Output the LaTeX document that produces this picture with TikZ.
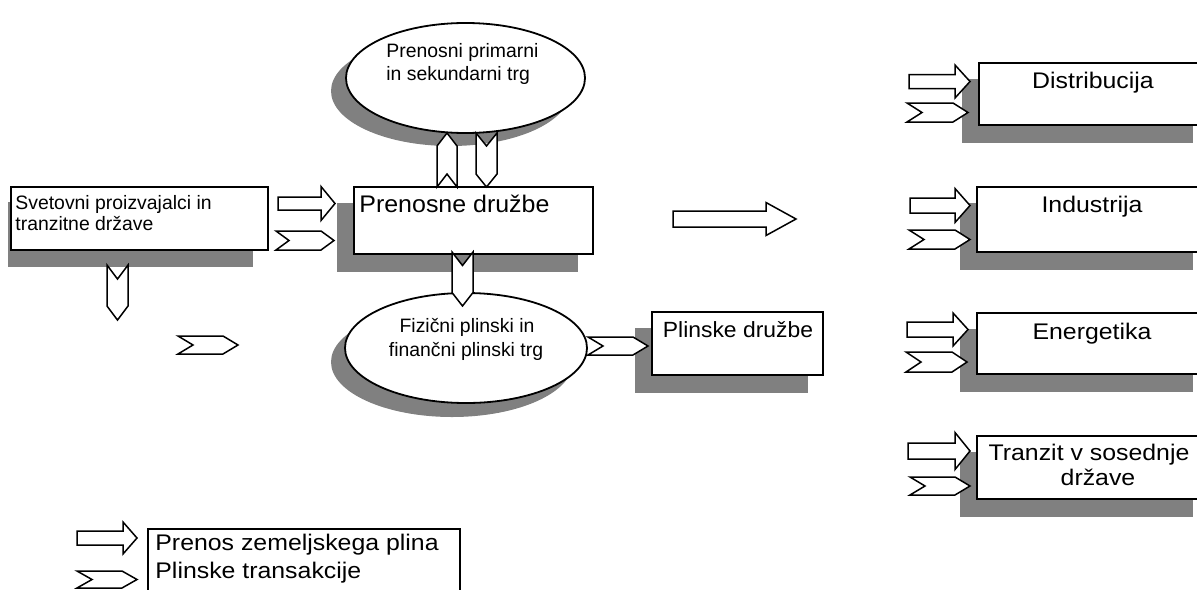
\documentclass[tikz,border=0pt]{standalone}
\usepackage{fontspec}
\setmainfont{Liberation Sans}
\newfontfamily\wideA[FakeStretch=1.1]{Liberation Sans}
\newfontfamily\wideB[FakeStretch=1.04]{Liberation Sans}
\usetikzlibrary{shapes.geometric,fit,backgrounds}
\definecolor{shadowgray}{RGB}{128,128,128}

% block arrow (gas transport): x0, y centre, length, head length, shaft half height, head half height
\newcommand{\gasarrow}[6]{%
  \draw[flowshape] (#1,#2-#5) -- (#1+#3-#4,#2-#5) -- (#1+#3-#4,#2-#6) -- (#1+#3,#2)
    -- (#1+#3-#4,#2+#6) -- (#1+#3-#4,#2+#5) -- (#1,#2+#5) -- cycle;}
% chevron (gas transactions): tail x, tail y, direction, length, half width, notch depth
\newcommand{\gaschevron}[6]{%
  \draw[flowshape, shift={(#1,#2)}, rotate=#3] (0,-#5) -- (#4-#6,-#5) -- (#4,0)
    -- (#4-#6,#5) -- (0,#5) -- (#6,0) -- cycle;}
% drop shadow behind a rectangular node
\newcommand{\boxshadow}[1]{%
  \fill[shadowfill] ([shift={(-16,17)}]#1.south west) rectangle ([shift={(-16,17)}]#1.north east);}

\tikzset{
  boxnode/.style={draw, rectangle, line width=0.9pt, fill=white, inner sep=0pt},
  ellnode/.style={draw, ellipse, line width=0.9pt, fill=white, inner sep=0pt},
  shadowfill/.style={fill=shadowgray},
  flowshape/.style={draw, line width=0.75pt, fill=white, line join=miter},
  smalltxt/.style={font=\fontsize{9.7pt}{11pt}\selectfont, inner sep=0pt},
  midtxt/.style={font=\wideB\fontsize{12pt}{14pt}\selectfont, inner sep=0pt},
  firmtxt/.style={font=\wideB\fontsize{11pt}{13pt}\selectfont, inner sep=0pt},
  bigtxt/.style={font=\wideA\fontsize{11.3pt}{13pt}\selectfont, inner sep=0pt},
}

\begin{document}
\begin{tikzpicture}[x=0.5pt, y=-0.5pt]
\useasboundingbox (0,0) rectangle (1197,589);

% --- boxes and markets ---
\node[boxnode, fit={(11,187) (268,250)}] (sv) {};
\node[boxnode, fit={(354,187) (593,254)}] (pd) {};
\node[boxnode, fit={(652,312) (823,375)}] (pl) {};
\node[boxnode, fit={(979,63) (1208,125)}] (dist) {};
\node[boxnode, fit={(977,187) (1208,252)}] (ind) {};
\node[boxnode, fit={(977,313) (1208,374)}] (ener) {};
\node[boxnode, fit={(977,436) (1208,499)}] (tran) {};
\node[boxnode, fit={(148,529) (460,600)}] (lg) {};
\node[ellnode, minimum width=119.5pt, minimum height=55pt] (pt) at (465.5,78) {};
\node[ellnode, minimum width=121pt, minimum height=55pt] (fz) at (466,348) {};

\begin{scope}[on background layer]
  \fill[shadowfill] (8,202) rectangle (253,267);
  \boxshadow{pd}
  \boxshadow{pl}
  \boxshadow{dist}
  \boxshadow{ind}
  \boxshadow{ener}
  \boxshadow{tran}
  \fill[shadowfill] ([shift={(-15,13)}]pt.center) ellipse [x radius=119.5, y radius=55];
  \fill[shadowfill] ([shift={(-14,14)}]fz.center) ellipse [x radius=121, y radius=55];
\end{scope}

% --- gas transport (block arrows) ---
\gasarrow{278}{203.5}{57}{14}{6.5}{17}
\gasarrow{673}{219}{123}{30}{8}{16.5}
\gasarrow{909}{81.5}{61}{15}{7}{16.5}
\gasarrow{910}{205.5}{60}{15}{7.5}{17}
\gasarrow{907}{329.5}{61}{15}{7.5}{16.5}
\gasarrow{908}{451}{62}{15}{8}{18.5}
\gasarrow{77}{538}{60}{14}{7}{16}

% --- gas transactions (chevrons) ---
\gaschevron{276}{240.5}{0}{58}{9.5}{13}
\gaschevron{117.5}{265}{-90}{55}{10.5}{14}
\gaschevron{178}{345}{0}{60}{9}{15}
\gaschevron{462.5}{252}{-90}{54}{10.5}{13.5}
\gaschevron{447}{187}{90}{54}{10}{13}
\gaschevron{486.5}{133}{-90}{54}{10.5}{13}
\gaschevron{588}{346}{0}{60}{9}{15}
\gaschevron{907}{112.5}{0}{61}{9.5}{15}
\gaschevron{909}{239.5}{0}{61}{9.5}{15}
\gaschevron{906}{362}{0}{61}{10}{15}
\gaschevron{910}{486}{0}{60}{9}{15}
\gaschevron{77}{579.5}{0}{60}{8.5}{15}

% --- labels ---
\node[smalltxt, anchor=base west] (sv-t1) at (15,209) {Svetovni proizvajalci in};
\node[smalltxt, anchor=base west] (sv-t2) at (15,230) {tranzitne države};
\node[smalltxt, anchor=base west] (pt-t1) at (386,57) {Prenosni primarni};
\node[smalltxt, anchor=base west] (pt-t2) at (386,80) {in sekundarni trg};
\node[midtxt, anchor=base west] (pd-t) at (359,212) {Prenosne družbe};
\node[smalltxt, anchor=base] (fz-t1) at (467,332) {Fizični plinski in};
\node[smalltxt, anchor=base] (fz-t2) at (466,356) {finančni plinski trg};
\node[firmtxt, anchor=base] (pl-t) at (738,337) {Plinske družbe};
\node[bigtxt, anchor=base] (dist-t) at (1093,88) {Distribucija};
\node[bigtxt, anchor=base] (ind-t) at (1092,212) {Industrija};
\node[bigtxt, anchor=base] (ener-t) at (1092,339) {Energetika};
\node[bigtxt, anchor=base] (tran-t1) at (1089,460) {Tranzit v sosednje};
\node[bigtxt, anchor=base] (tran-t2) at (1098,485) {države};
\node[bigtxt, anchor=base west] (lg-t1) at (155,550) {Prenos zemeljskega plina};
\node[bigtxt, anchor=base west] (lg-t2) at (155,578) {Plinske transakcije};
\end{tikzpicture}
\end{document}
